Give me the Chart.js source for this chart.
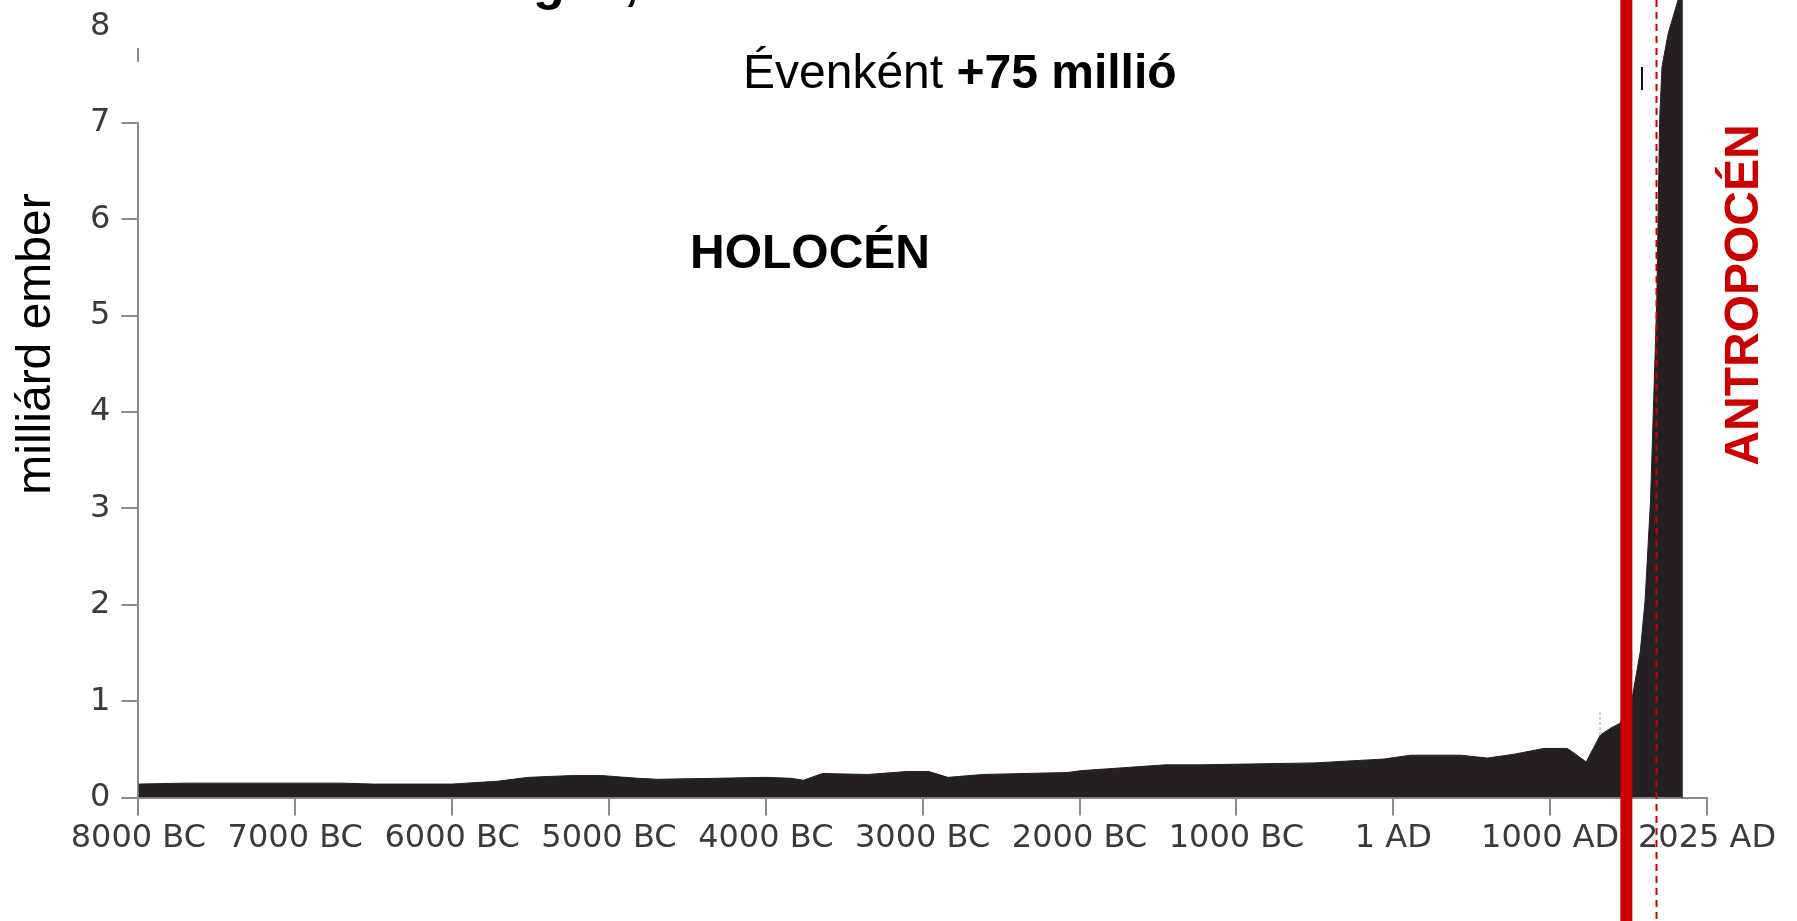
<!DOCTYPE html>
<html>
<head>
<meta charset="utf-8">
<script src="https://cdn.jsdelivr.net/npm/chart.js@4.4.1/dist/chart.umd.min.js"></script>
<style>
  html, body { margin: 0; padding: 0; background: #fff; }
  #wrap { width: 1797px; height: 921px; position: relative; }
</style>
</head>
<body>
<div id="wrap"><canvas id="popChart"></canvas></div>
<script>

// years on the axis scale (negative = BC), population in billions
const years = [
    -8000, -7700, -6700, -6500, -6000, -5710, -5515, -5220, -5055, -4815,
    -4690, -4320, -4000, -3840, -3760, -3640, -3350, -3105, -2960, -2840,
    -2615, -2080, -1985, -1450, -1230, -500, -60, 110, 430, 600,
    770, 960, 1110, 1145, 1230, 1275, 1320, 1385, 1445, 1525,
    1575, 1605, 1640, 1660, 1680, 1698, 1713, 1753, 1815, 1840, 1840
];
const population = [
    0.14, 0.15, 0.15, 0.14, 0.14, 0.17, 0.21, 0.23, 0.23, 0.20,
    0.19, 0.20, 0.21, 0.20, 0.18, 0.25, 0.24, 0.27, 0.27, 0.21,
    0.24, 0.26, 0.28, 0.34, 0.34, 0.36, 0.40, 0.44, 0.44, 0.41,
    0.45, 0.51, 0.51, 0.47, 0.37, 0.51, 0.65, 0.72, 0.77, 1.05,
    1.52, 2.04, 3.08, 4.12, 5.16, 7.03, 7.58, 7.93, 8.27, 8.35, 0
];
const xTickLabels = ['8000 BC', '7000 BC', '6000 BC', '5000 BC', '4000 BC', '3000 BC',
    '2000 BC', '1000 BC', '1 AD', '1000 AD', '2025 AD'];
const yTickValues = [0, 1, 2, 3, 4, 5, 6, 7, 8];

const anthropoceneStart = 1486;   // thick red line
const markerYear = 1677;          // thin dashed red line

const RED = '#cc0000';
const AXIS_GRAY = '#8c8c8c';

const points = years.map((yr, i) => ({ x: yr, y: population[i] }));

const overlay = {
    id: 'overlay',
    beforeDatasetsDraw(chart) {
        const ctx = chart.ctx;
        const ys = chart.scales.y;
        const x0 = chart.scales.x.left;
        ctx.save();
        ctx.fillStyle = '#fff';
        // cut-outs of the y axis, as in the original picture
        ctx.fillRect(x0 - 4, 0, 8, 48);
        ctx.fillRect(x0 - 3, 62, 1640 - x0, ys.getPixelForValue(7) - 63);
        ctx.restore();
        // let the area run up past the top of the plot, like the original
        this._top = chart.chartArea.top;
        chart.chartArea.top = 0;
    },
    afterDatasetsDraw(chart) {
        chart.chartArea.top = this._top;
    },
    afterDraw(chart) {
        const ctx = chart.ctx;
        const xs = chart.scales.x;
        const h = chart.height;
        ctx.save();

        // small leftovers of the source image
        ctx.fillStyle = '#111';
        ctx.fillRect(1641, 67, 2, 23);
        ctx.fillStyle = '#d0d0d0';
        for (let y = 712; y < 734; y += 5) ctx.fillRect(1599, y, 2, 3);

        // red period lines
        const xr = xs.getPixelForValue(anthropoceneStart);
        ctx.fillStyle = RED;
        ctx.fillRect(xr - 6, 0, 12, h);

        const xd = Math.round(xs.getPixelForValue(markerYear)) + 0.5;
        ctx.strokeStyle = RED;
        ctx.lineWidth = 2;
        ctx.setLineDash([7, 5]);
        ctx.beginPath();
        ctx.moveTo(xd, 0);
        ctx.lineTo(xd, h);
        ctx.stroke();
        ctx.setLineDash([]);

        // texts
        ctx.fillStyle = '#000';
        ctx.textBaseline = 'alphabetic';
        ctx.textAlign = 'left';
        ctx.font = '48px "Liberation Sans", Arial, sans-serif';
        const part1 = 'Évenként ';
        ctx.fillText(part1, 743, 88);
        const w1 = ctx.measureText(part1).width;
        ctx.font = 'bold 48px "Liberation Sans", Arial, sans-serif';
        ctx.fillText('+75 millió', 743 + w1, 88);

        ctx.fillText('HOLOCÉN', 690, 268);

        // cropped title remains at the very top
        ctx.font = 'bold 52px "Liberation Sans", Arial, sans-serif';
        ctx.fillText('g', 533, -1);
        ctx.fillText(',', 624, -1);

        // y axis title
        ctx.font = '48px "Liberation Sans", Arial, sans-serif';
        ctx.textAlign = 'center';
        ctx.save();
        ctx.translate(50, 344);
        ctx.rotate(-Math.PI / 2);
        ctx.fillText('milliárd ember', 0, 0);
        ctx.restore();

        // period label
        ctx.fillStyle = RED;
        ctx.font = 'bold 48px "Liberation Sans", Arial, sans-serif';
        ctx.translate(1758, 295);
        ctx.rotate(-Math.PI / 2);
        ctx.fillText('ANTROPOCÉN', 0, 0);

        ctx.restore();
    }
};

const config = {
    type: 'line',
    data: {
        datasets: [{
            data: points,
            fill: 'origin',
            backgroundColor: '#242021',
            borderColor: '#242021',
            borderWidth: 1,
            pointRadius: 0,
            tension: 0,
            clip: false
        }]
    },
    options: {
        responsive: true,
        maintainAspectRatio: false,
        animation: false,
        layout: {
            padding: { left: 79, right: 90, top: 26.4, bottom: 59 }
        },
        plugins: {
            legend: { display: false },
            tooltip: { enabled: false }
        },
        scales: {
            x: {
                type: 'linear',
                min: -8000,
                max: 2000,
                ticks: {
                    stepSize: 1000,
                    autoSkip: false,
                    maxRotation: 0,
                    padding: 4,
                    color: '#3a3a3a',
                    font: { family: 'DejaVu Sans', size: 32 },
                    callback: (v) => xTickLabels[Math.round((v + 8000) / 1000)]
                },
                grid: {
                    drawOnChartArea: false,
                    tickLength: 18,
                    color: AXIS_GRAY,
                    lineWidth: 2
                },
                border: { color: AXIS_GRAY, width: 2 }
            },
            y: {
                min: 0,
                max: 8,
                afterBuildTicks: (axis) => {
                    axis.ticks = yTickValues.map(v => ({ value: v }));
                },
                ticks: {
                    padding: 11,
                    color: '#3a3a3a',
                    font: { family: 'DejaVu Sans', size: 32, lineHeight: 0.8 }
                },
                grid: {
                    drawOnChartArea: false,
                    tickLength: 17,
                    color: (c) => (c.tick && c.tick.value === 8) ? 'rgba(0,0,0,0)' : AXIS_GRAY,
                    lineWidth: 2
                },
                border: { color: AXIS_GRAY, width: 2 }
            }
        }
    },
    plugins: [overlay]
};

new Chart(document.getElementById('popChart'), config);
</script>
</body>
</html>
